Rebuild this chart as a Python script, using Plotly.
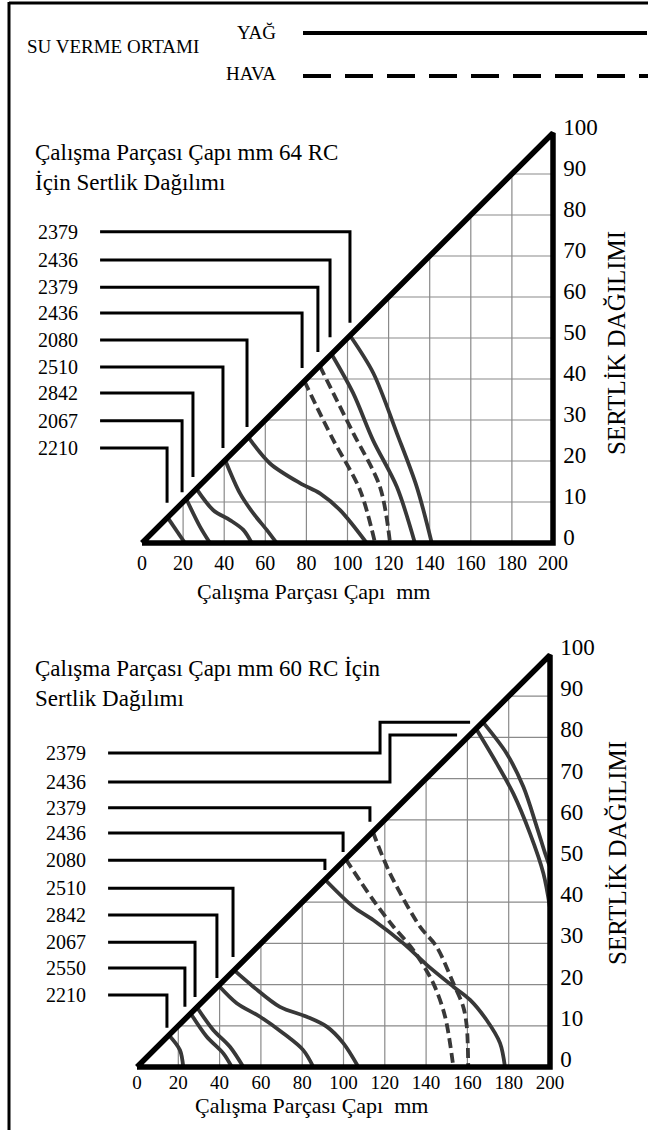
import plotly.graph_objects as go

FONT = "Liberation Serif"
W, H = 648, 1130

x_ticks = [0, 20, 40, 60, 80, 100, 120, 140, 160, 180, 200]
y_ticks = [0, 10, 20, 30, 40, 50, 60, 70, 80, 90, 100]
grid_x = [20, 40, 60, 80, 100, 120, 140, 160, 180]
grid_y = [10, 20, 30, 40, 50, 60, 70, 80, 90]

# ---------------- top chart (64 RC) ----------------
top_labels = ["2379", "2436", "2379", "2436", "2080", "2510", "2842", "2067", "2210"]
top_label_y = [75.9, 69.0, 62.4, 56.1, 49.5, 42.9, 36.6, 29.8, 23.2]
top_leader_x = [101.2, 91.5, 85.6, 77.9, 51.1, 39.4, 24.8, 19.5, 12.2]
top_leader_end = [53.7, 50.2, 46.6, 42.7, 28.3, 23.2, 16.1, 12.4, 9.8]
top_dashed = [False, False, True, True, False, False, False, False, False]
top_curve_x = [
    [101.2, 112.6, 124.0, 133.7, 141.0],
    [92.2, 102.7, 112.4, 124.0, 132.8],
    [86.5, 94.7, 102.8, 115.8, 120.7],
    [79.0, 86.6, 93.1, 106.1, 113.4],
    [51.7, 62.3, 76.9, 86.6, 96.4, 109.3],
    [40.5, 47.7, 54.2, 60.7, 65.5],
    [26.5, 34.7, 42.8, 49.3, 53.4],
    [21.5, 28.2, 33.1],
    [12.5, 20.9],
]
top_curve_y = [
    [50.6, 41.4, 26.8, 13.7, 0.0],
    [46.1, 36.6, 25.1, 13.7, 0.0],
    [43.2, 34.9, 26.8, 13.7, 0.0],
    [39.5, 31.6, 25.1, 12.9, 0.0],
    [25.8, 19.4, 14.6, 12.1, 8.0, 0.0],
    [20.2, 12.1, 7.2, 3.2, 0.0],
    [13.2, 8.0, 5.6, 3.2, 0.0],
    [10.8, 4.0, 0.0],
    [6.2, 0.0],
]
top_leader_start = -20.4

# ---------------- bottom chart (60 RC) ----------------
bot_labels = ["2379", "2436", "2379", "2436", "2080", "2510", "2842", "2067", "2550", "2210"]
bot_label_y = [76.2, 69.2, 62.9, 56.8, 50.2, 43.4, 36.9, 30.3, 24.0, 17.5]
bot_leader_x = [117.7, 122.5, 112.8, 99.8, 91.0, 46.5, 38.7, 28.1, 23.2, 14.5]
bot_leader_end = [83.7, 80.6, 59.5, 52.2, 47.8, 26.7, 21.6, 17.0, 14.6, 9.5]
bot_leader_tail = [161.3, 155.0, None, None, None, None, None, None, None, None]
bot_dashed = [False, False, True, True, False, False, False, False, False, False]
bot_curve_x = [
    [167.5, 179.0, 187.1, 193.6, 197.6, 200.0],
    [164.2, 174.2, 182.2, 190.3, 196.8, 200.0],
    [114.2, 122.5, 137.0, 145.1, 153.2, 158.0, 159.7, 160.4],
    [101.0, 114.4, 124.1, 133.8, 143.5, 149.2, 153.2],
    [91.0, 104.7, 114.4, 129.0, 140.3, 153.2, 161.3, 169.3, 175.8, 178.2],
    [47.0, 56.3, 69.2, 82.2, 91.9, 99.9, 107.2],
    [39.5, 48.3, 59.6, 70.8, 80.5, 85.4],
    [29.0, 36.9, 45.0, 51.5],
    [26.0, 33.7, 41.8, 45.9],
    [15.5, 20.8, 22.4],
]
bot_curve_y = [
    [83.7, 76.1, 68.0, 58.3, 51.9, 48.5],
    [82.1, 73.7, 66.4, 56.7, 47.0, 38.6],
    [57.1, 47.0, 34.1, 29.2, 20.3, 14.6, 9.8, 0.0],
    [50.5, 40.5, 34.1, 28.4, 20.3, 12.2, 0.0],
    [45.5, 38.9, 35.7, 30.0, 24.8, 19.5, 16.3, 11.4, 5.8, 0.0],
    [23.5, 19.5, 14.6, 12.2, 9.8, 5.8, 0.0],
    [19.8, 15.5, 12.2, 8.2, 4.1, 0.0],
    [14.5, 9.0, 4.9, 0.0],
    [13.0, 7.4, 3.3, 0.0],
    [7.7, 4.1, 0.0],
]
bot_leader_start = -14.0

title_top = "Çalışma Parçası Çapı mm 64 RC<br>İçin Sertlik Dağılımı"
title_bot = "Çalışma Parçası Çapı mm 60 RC İçin<br>Sertlik Dağılımı"
x_title = "Çalışma Parçası Çapı  mm"
y_title = "SERTLİK DAĞILIMI"
legend_title = "SU VERME ORTAMI"
legend_items = ["YAĞ", "HAVA"]

CURVE = "#383838"
GRID = "#8a8a8a"

fig = go.Figure()


def add_panel(xa, ya, labels, label_y, lead_x, lead_end, lead_tail, dashed, cx, cy, lead_start):
    # grid below the diagonal
    gx, gy = [], []
    for v in grid_x:
        gx += [v, v, None]
        gy += [0, v / 2, None]
    for h in grid_y:
        gx += [2 * h, 200, None]
        gy += [h, h, None]
    fig.add_trace(go.Scatter(x=gx, y=gy, mode="lines", line=dict(color=GRID, width=1.2),
                             xaxis=xa, yaxis=ya, hoverinfo="skip", showlegend=False))
    # curves
    for xs, ys, d in zip(cx, cy, dashed):
        fig.add_trace(go.Scatter(x=xs, y=ys, mode="lines",
                                 line=dict(color=CURVE, width=3.8, shape="spline", smoothing=0.9,
                                           dash="10px,5px" if d else "solid"),
                                 xaxis=xa, yaxis=ya, hoverinfo="skip", showlegend=False))
    # triangle frame
    fig.add_trace(go.Scatter(x=[0, 200, 200, 0], y=[0, 0, 100, 0], mode="lines",
                             line=dict(color="black", width=5.5), xaxis=xa, yaxis=ya,
                             hoverinfo="skip", showlegend=False))
    # leaders
    lx, ly = [], []
    for i in range(len(labels)):
        tail = lead_tail[i] if lead_tail is not None else None
        lx += [lead_start, lead_x[i], lead_x[i]]
        ly += [label_y[i], label_y[i], lead_end[i]]
        if tail is not None:
            lx += [tail]
            ly += [lead_end[i]]
        lx += [None]
        ly += [None]
    fig.add_trace(go.Scatter(x=lx, y=ly, mode="lines", line=dict(color="black", width=3),
                             xaxis=xa, yaxis=ya, hoverinfo="skip", showlegend=False))
    for t, yv in zip(labels, label_y):
        fig.add_annotation(x=lead_start, y=yv, xref=xa, yref=ya, text=t, showarrow=False,
                           xanchor="right", yanchor="middle", xshift=-20,
                           font=dict(family=FONT, size=20, color="black"))


add_panel("x", "y", top_labels, top_label_y, top_leader_x, top_leader_end, None,
          top_dashed, top_curve_x, top_curve_y, top_leader_start)
add_panel("x2", "y2", bot_labels, bot_label_y, bot_leader_x, bot_leader_end, bot_leader_tail,
          bot_dashed, bot_curve_x, bot_curve_y, bot_leader_start)


def dom_x(x0px, scale, lo, hi):
    return [(x0px + lo * scale) / W, (x0px + hi * scale) / W]


def dom_y(y0px, scale, lo, hi):
    return [1 - (y0px - lo * scale) / H, 1 - (y0px - hi * scale) / H]


XR_T, YR = [-22, 204.5], [-0.8, 102.5]
XR_B = [-16, 204.5]

axis_common = dict(showgrid=False, zeroline=False, showline=False, ticks="", fixedrange=True)
xtf = dict(family=FONT, size=20, color="black")
xtf2 = dict(family=FONT, size=19, color="black")
ytf = dict(family=FONT, size=23, color="black")
fig.update_layout(
    width=W, height=H, margin=dict(l=0, r=0, t=0, b=0, autoexpand=False),
    paper_bgcolor="white", plot_bgcolor="rgba(0,0,0,0)", showlegend=False,
    xaxis=dict(domain=dom_x(142, 2.055, *XR_T), range=XR_T, anchor="free",
               position=1 - 549 / H, tickvals=x_ticks, tickfont=xtf, **axis_common),
    yaxis=dict(domain=dom_y(543, 4.1, *YR), range=YR, anchor="x", side="right", tickvals=y_ticks,
               tickfont=ytf, ticklabelshift=-6, **axis_common),
    xaxis2=dict(domain=dom_x(137, 2.065, *XR_B), range=XR_B, anchor="free",
                position=1 - 1069 / H, tickvals=x_ticks, tickfont=xtf2, **axis_common),
    yaxis2=dict(domain=dom_y(1067, 4.12, *YR), range=YR, anchor="x2", side="right", tickvals=y_ticks,
                tickfont=ytf, ticklabelshift=-8, **axis_common),
)

txt = dict(family=FONT, color="black")
ann = [
    dict(x=33 / W, y=1 - 138 / H, text=title_top, xanchor="left", yanchor="top", align="left",
         font=dict(size=23, **txt)),
    dict(x=33 / W, y=1 - 654 / H, text=title_bot, xanchor="left", yanchor="top", align="left",
         font=dict(size=23, **txt)),
    dict(x=313 / W, y=1 - 591 / H, text=x_title, xanchor="center", yanchor="middle",
         font=dict(size=22, **txt)),
    dict(x=311 / W, y=1 - 1105 / H, text=x_title, xanchor="center", yanchor="middle",
         font=dict(size=22, **txt)),
    dict(x=617 / W, y=1 - 343 / H, text=y_title, textangle=-90, xanchor="center", yanchor="middle",
         font=dict(size=25, **txt)),
    dict(x=617 / W, y=1 - 853 / H, text=y_title, textangle=-90, xanchor="center", yanchor="middle",
         font=dict(size=25, **txt)),
    dict(x=25 / W, y=1 - 46 / H, text=legend_title, xanchor="left", yanchor="middle",
         font=dict(size=19, **txt)),
    dict(x=278 / W, y=1 - 32 / H, text=legend_items[0], xanchor="right", yanchor="middle",
         font=dict(size=19, **txt)),
    dict(x=278 / W, y=1 - 73 / H, text=legend_items[1], xanchor="right", yanchor="middle",
         font=dict(size=19, **txt)),
]
for a in ann:
    fig.add_annotation(xref="paper", yref="paper", showarrow=False, **a)

shapes = [
    dict(type="line", x0=303 / W, x1=647 / W, y0=1 - 33 / H, y1=1 - 33 / H,
         line=dict(color="black", width=4)),
    dict(type="line", x0=303 / W, x1=1.0, y0=1 - 76 / H, y1=1 - 76 / H,
         line=dict(color="black", width=4, dash="28px,14px")),
    dict(type="line", x0=9 / W, x1=9 / W, y0=0, y1=1 - 2 / H, line=dict(color="black", width=3)),
    dict(type="line", x0=9 / W, x1=1.0, y0=1 - 3 / H, y1=1 - 3 / H, line=dict(color="black", width=3)),
]
for s in shapes:
    fig.add_shape(xref="paper", yref="paper", **s)

fig.write_html("out.html")
